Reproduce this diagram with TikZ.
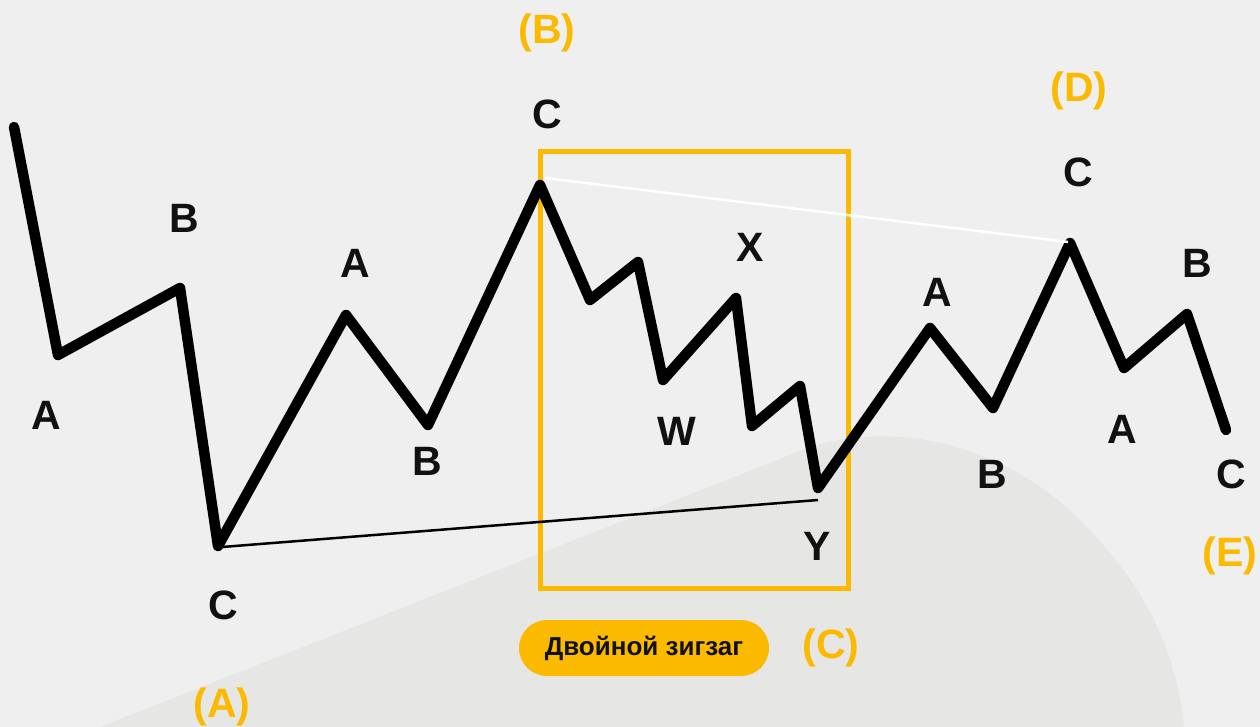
\documentclass[tikz,border=0pt]{standalone}
\usepackage{fontspec}
\setmainfont{Liberation Sans}
\definecolor{bg}{HTML}{EFEFEF}
\definecolor{blobc}{HTML}{E6E6E4}
\definecolor{ylw}{HTML}{FBB900}
\definecolor{ink}{HTML}{111111}
\tikzset{
  wave/.style={line width=10.5pt, line cap=round, line join=round, draw=black},
  lbl/.style={font=\fontsize{41}{48}\selectfont\bfseries, text=ink, inner sep=0pt},
  ylbl/.style={font=\fontsize{41}{48}\selectfont\bfseries, text=ylw, inner sep=0pt},
  pill/.style={fill=ylw, rounded corners=28pt, minimum width=250pt, minimum height=56pt, inner sep=0pt,
    font=\fontsize{26}{30}\selectfont\bfseries, text=ink},
}
\begin{document}
\begin{tikzpicture}[x=1pt,y=-1pt]
\useasboundingbox (0,0) rectangle (1260,727);
\fill[bg] (0,0) rectangle (1260,727);
\begin{scope}
\clip (0,0) rectangle (1260,727);
\fill[blobc] (100,727) -- (790,455) .. controls (880,415) and (1000,440) .. (1080,520)
  .. controls (1150,590) and (1180,660) .. (1185,740) -- (100,740) -- cycle;
\end{scope}
% vertices
\coordinate (p0) at (14,127);
\coordinate (p1) at (58,355);
\coordinate (p2) at (180,288);
\coordinate (p3) at (218,546);
\coordinate (p4) at (346,315);
\coordinate (p5) at (428,425);
\coordinate (p6) at (540,185);
\coordinate (p7) at (590,300);
\coordinate (p8) at (638,262);
\coordinate (p9) at (663,380);
\coordinate (p10) at (736,298);
\coordinate (p11) at (752,426);
\coordinate (p12) at (800,386);
\coordinate (p13) at (818,488);
\coordinate (p14) at (930,328);
\coordinate (p15) at (993,408);
\coordinate (p16) at (1070,243);
\coordinate (p17) at (1124,368);
\coordinate (p18) at (1187,314);
\coordinate (p19) at (1226,430);
% trend lines
\coordinate (t1) at (222,547);
\coordinate (t2) at (818,500);
\coordinate (w1) at (545,178);
\coordinate (w2) at (1068,242);
% box
\draw[ylw, line width=5pt] (540,152) rectangle (848,588);
\draw[wave] (p0) -- (p1) -- (p2) -- (p3) -- (p4) -- (p5) -- (p6) -- (p7) -- (p8) -- (p9)
  -- (p10) -- (p11) -- (p12) -- (p13) -- (p14) -- (p15) -- (p16) -- (p17) -- (p18) -- (p19);
\draw[black, line width=2.5pt] (t1) -- (t2);
\draw[white, line width=2.5pt] (w1) -- (w2);
% labels
\node[lbl] (l1) at (46,415) {A};
\node[lbl] (l2) at (184,218) {B};
\node[lbl] (l3) at (223,605) {C};
\node[lbl] (l4) at (355,263) {A};
\node[lbl] (l5) at (427,461) {B};
\node[lbl] (l6) at (547,114) {C};
\node[lbl] (l7) at (750,247) {X};
\node[lbl] (l8) at (677,431) {W};
\node[lbl] (l9) at (817,546) {Y};
\node[lbl] (l10) at (937,292) {A};
\node[lbl] (l11) at (992,474) {B};
\node[lbl] (l12) at (1078,172) {C};
\node[lbl] (l13) at (1197,263) {B};
\node[lbl] (l14) at (1122,429) {A};
\node[lbl] (l15) at (1231,474) {C};
\node[ylbl] (y1) at (547,33) {(B)};
\node[ylbl] (y2) at (1079,91) {(D)};
\node[ylbl] (y3) at (1230,556) {(E)};
\node[ylbl] (y4) at (831,648) {(C)};
\node[ylbl] (y5) at (222,707) {(A)};
\node[pill] (pl) at (644,648) {Двойной зигзаг};
\end{tikzpicture}
\end{document}
